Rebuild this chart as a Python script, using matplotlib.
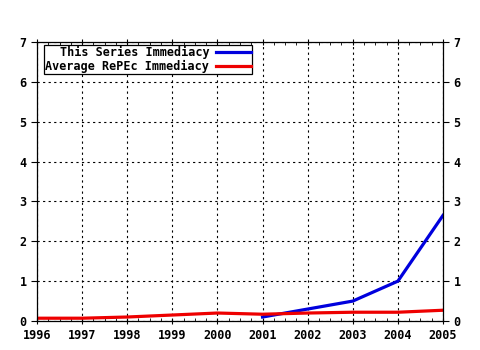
import matplotlib.pyplot as plt
from matplotlib.ticker import MultipleLocator

years = [1996, 1997, 1998, 1999, 2000, 2001, 2002, 2003, 2004, 2005]
avg_repec = [0.07, 0.07, 0.10, 0.15, 0.20, 0.17, 0.20, 0.22, 0.22, 0.27]
series_years = [2001, 2002, 2003, 2004, 2005]
series_vals = [0.10, 0.30, 0.50, 1.00, 2.65]

plt.rcParams["font.family"] = "DejaVu Sans Mono"
plt.rcParams["font.weight"] = "bold"
plt.rcParams["font.size"] = 8.5

fig = plt.figure(figsize=(4.8, 3.5), dpi=100)
ax = fig.add_axes([37 / 480, 29 / 350, 406 / 480, 279 / 350])

ax.plot(series_years, series_vals, color="#0000dd", lw=2.3, label="This Series Immediacy")
ax.plot(years, avg_repec, color="#ee0000", lw=2.3, label="Average RePEc Immediacy")

ax.set_xlim(1996, 2005)
ax.set_ylim(0, 7)
ax.set_xticks(years)
ax.set_yticks(range(8))
ax.xaxis.set_minor_locator(MultipleLocator(0.25))
ax.grid(True, which="major", color="black", linestyle=(0, (2, 3)), linewidth=0.8)
ax.tick_params(axis="both", which="major", direction="out", length=4, width=0.8, labelsize=8.5)
ax.tick_params(axis="y", right=True, labelright=True)
ax.tick_params(axis="x", which="minor", top=True, bottom=True, direction="in", length=2, width=0.6)
ax.tick_params(axis="x", top=True, direction="inout")
for s in ax.spines.values():
    s.set_linewidth(0.9)

leg = ax.legend(loc="upper left", bbox_to_anchor=(0.017, 0.99), markerfirst=False,
                fancybox=False, framealpha=1, edgecolor="black", handlelength=2.9,
                borderpad=0.12, labelspacing=0.05, handletextpad=0.6, borderaxespad=0)
leg.get_frame().set_linewidth(0.9)
for t in leg.get_texts():
    t.set_ha("right")
    t.set_fontsize(8.5)
leg._legend_box.align = "right"
for vp in leg._legend_box.get_children()[1].get_children():
    vp.align = "right"

fig.savefig("out.png", dpi=100)
